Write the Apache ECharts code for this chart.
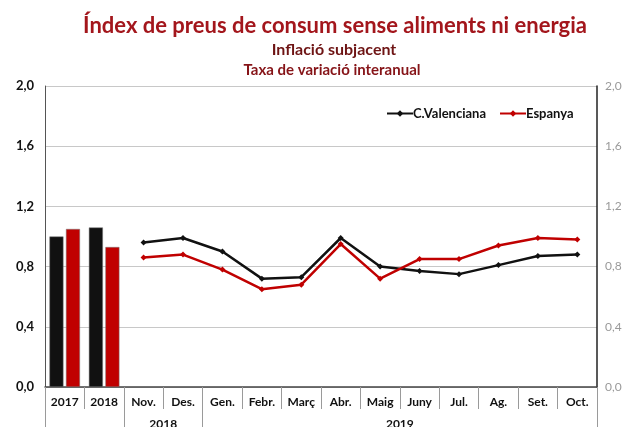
<!DOCTYPE html>
<html lang="ca">
<head>
    <meta charset="UTF-8">
    <script src="https://cdn.jsdelivr.net/npm/echarts@6/dist/echarts.min.js"></script>
    <title>Index de preus</title>
    <style>
        html, body { margin: 0; padding: 0; background: #fff; }
        #main { width: 629px; height: 427px; }
    </style>
</head>
<body>
<div id="main"></div>
<script>
    // categories: two annual averages + monthly values
    var categories = ['2017', '2018', 'Nov.', 'Des.', 'Gen.', 'Febr.', 'Març', 'Abr.', 'Maig', 'Juny', 'Jul.', 'Ag.', 'Set.', 'Oct.'];
    // annual bars (only first two categories)
    var barValencia = [1.00, 1.06];
    var barEspanya = [1.05, 0.93];
    // monthly lines (Nov. 2018 .. Oct. 2019)
    var lineValencia = [0.96, 0.99, 0.90, 0.72, 0.73, 0.99, 0.80, 0.77, 0.75, 0.81, 0.87, 0.88];
    var lineEspanya = [0.86, 0.88, 0.78, 0.65, 0.68, 0.95, 0.72, 0.85, 0.85, 0.94, 0.99, 0.98];
    // year groups below the month labels, as category index spans
    var yearGroups = [
        { name: '2018', from: 2, to: 4 },
        { name: '2019', from: 4, to: 14 }
    ];

    var font = 'Lato, "Open Sans", sans-serif';
    var dark = '#111111';
    var red = '#C00000';

    function pad(arr, before, total) {
        var out = [];
        for (var i = 0; i < total; i++) {
            var j = i - before;
            out.push(j >= 0 && j < arr.length ? arr[j] : null);
        }
        return out;
    }
    function fmt(v) { return v.toFixed(1).replace('.', ','); }

    var n = categories.length;
    var groupTicks = [0];
    var groupLabels = [];
    var groupNames = {};
    yearGroups.forEach(function (g) {
        if (groupTicks.indexOf(g.from) < 0) groupTicks.push(g.from);
        groupTicks.push(g.to);
        var mid = (g.from + g.to) / 2;
        groupLabels.push(mid);
        groupNames[mid] = g.name;
    });

    var chart = echarts.init(document.getElementById('main'));
    var option = {
        animation: false,
        title: [
            {
                text: 'Índex de preus de consum sense aliments ni energia',
                left: 330, top: 10, textAlign: 'center',
                textStyle: { fontFamily: font, fontSize: 22, fontWeight: 'bold', color: '#A3161C' }
            },
            {
                text: 'Inflació subjacent',
                left: 329, top: 37, textAlign: 'center',
                textStyle: { fontFamily: font, fontSize: 16, fontWeight: 'bold', color: '#6E1414' }
            },
            {
                text: 'Taxa de variació interanual',
                left: 327, top: 58, textAlign: 'center',
                textStyle: { fontFamily: font, fontSize: 15, fontWeight: 'bold', color: '#861418' }
            }
        ],
        legend: {
            data: ['C.Valenciana', 'Espanya'],
            left: 381, top: 102,
            itemWidth: 26, itemHeight: 8, itemGap: 13,
            textStyle: { fontFamily: font, fontSize: 13, fontWeight: 'bold', color: dark, padding: [0, 0, 0, -5] }
        },
        grid: { left: 45, right: 32, top: 86, bottom: 40, outerBoundsMode: 'none' },
        xAxis: [
            {
                type: 'category',
                data: categories,
                position: 'bottom',
                axisLine: { lineStyle: { color: '#444', width: 1.5 } },
                axisTick: { show: true, interval: 0, length: 22, lineStyle: { color: '#9A9A9A', width: 1 } },
                axisLabel: { interval: 0, fontFamily: font, fontSize: 12, fontWeight: 'bold', color: dark, margin: 9 }
            },
            {
                type: 'value',
                min: 0, max: n,
                position: 'bottom',
                axisLine: { show: false },
                splitLine: { show: false },
                axisTick: { show: true, length: 42, customValues: groupTicks, lineStyle: { color: '#9A9A9A' } },
                axisLabel: {
                    customValues: groupLabels,
                    margin: 31,
                    fontFamily: font, fontSize: 12, fontWeight: 'bold', color: dark,
                    formatter: function (v) { return groupNames[v] || ''; }
                }
            }
        ],
        yAxis: [
            {
                type: 'value', min: 0, max: 2, interval: 0.4,
                axisLine: { show: true, lineStyle: { color: '#555' } },
                axisTick: { show: false },
                splitLine: { lineStyle: { color: '#C8C8C8' } },
                axisLabel: { fontFamily: font, fontSize: 13, fontWeight: 'bold', color: dark, margin: 11, formatter: fmt }
            },
            {
                type: 'value', min: 0, max: 2, interval: 0.4,
                position: 'right',
                axisLine: { show: true, lineStyle: { color: '#222', width: 1.5 } },
                axisTick: { show: false },
                splitLine: { show: false },
                axisLabel: { fontFamily: font, fontSize: 12, color: '#9A9A9A', margin: 8, formatter: fmt }
            }
        ],
        series: [
            {
                name: 'C.Valenciana (anual)', type: 'bar',
                data: pad(barValencia, 0, n),
                barWidth: 14, barGap: '18%',
                itemStyle: { color: dark, borderColor: '#777', borderWidth: 0.5 }
            },
            {
                name: 'Espanya (anual)', type: 'bar',
                data: pad(barEspanya, 0, n),
                barWidth: 14,
                itemStyle: { color: red, borderColor: '#777', borderWidth: 0.5 }
            },
            {
                name: 'C.Valenciana', type: 'line',
                data: pad(lineValencia, 2, n),
                symbol: 'diamond', symbolSize: 6,
                lineStyle: { color: dark, width: 2.5 },
                itemStyle: { color: dark }
            },
            {
                name: 'Espanya', type: 'line',
                data: pad(lineEspanya, 2, n),
                symbol: 'diamond', symbolSize: 6,
                lineStyle: { color: red, width: 2.5 },
                itemStyle: { color: red }
            }
        ]
    };
    chart.setOption(option);
</script>
</body>
</html>
